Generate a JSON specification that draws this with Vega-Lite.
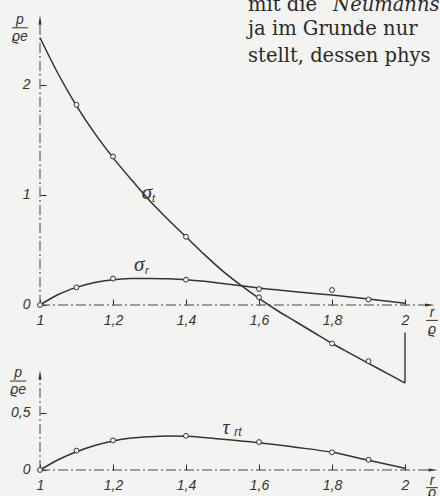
{
  "$schema": "https://vega.github.io/schema/vega-lite/v6.json",
  "background": "#f3f3f1",
  "padding": 0,
  "autosize": {"type": "none"},
  "width": 440,
  "height": 496,
  "config": {
    "view": {"stroke": null},
    "axis": {"grid": false, "domain": false, "tickColor": "#333", "tickWidth": 1.1, "labelFont": "Liberation Sans", "labelFontStyle": "italic", "labelFontSize": 14, "labelColor": "#333", "title": null}
  },
  "datasets": {
    "curves": [
      {"s": "sigma_t", "r": 1.0, "v": 2.43}, {"s": "sigma_t", "r": 1.05, "v": 2.1}, {"s": "sigma_t", "r": 1.1, "v": 1.81}, {"s": "sigma_t", "r": 1.15, "v": 1.56}, {"s": "sigma_t", "r": 1.2, "v": 1.34}, {"s": "sigma_t", "r": 1.25, "v": 1.14}, {"s": "sigma_t", "r": 1.3, "v": 0.95}, {"s": "sigma_t", "r": 1.35, "v": 0.78}, {"s": "sigma_t", "r": 1.4, "v": 0.62}, {"s": "sigma_t", "r": 1.45, "v": 0.46}, {"s": "sigma_t", "r": 1.5, "v": 0.31}, {"s": "sigma_t", "r": 1.55, "v": 0.18}, {"s": "sigma_t", "r": 1.6, "v": 0.06}, {"s": "sigma_t", "r": 1.65, "v": -0.05}, {"s": "sigma_t", "r": 1.7, "v": -0.15}, {"s": "sigma_t", "r": 1.75, "v": -0.25}, {"s": "sigma_t", "r": 1.8, "v": -0.35}, {"s": "sigma_t", "r": 1.85, "v": -0.44}, {"s": "sigma_t", "r": 1.9, "v": -0.53}, {"s": "sigma_t", "r": 1.95, "v": -0.62}, {"s": "sigma_t", "r": 2.0, "v": -0.71},
      {"s": "sigma_r", "r": 1.0, "v": 0.0}, {"s": "sigma_r", "r": 1.025, "v": 0.05}, {"s": "sigma_r", "r": 1.05, "v": 0.095}, {"s": "sigma_r", "r": 1.1, "v": 0.16}, {"s": "sigma_r", "r": 1.15, "v": 0.205}, {"s": "sigma_r", "r": 1.2, "v": 0.23}, {"s": "sigma_r", "r": 1.25, "v": 0.24}, {"s": "sigma_r", "r": 1.3, "v": 0.242}, {"s": "sigma_r", "r": 1.35, "v": 0.238}, {"s": "sigma_r", "r": 1.4, "v": 0.23}, {"s": "sigma_r", "r": 1.45, "v": 0.215}, {"s": "sigma_r", "r": 1.5, "v": 0.195}, {"s": "sigma_r", "r": 1.55, "v": 0.175}, {"s": "sigma_r", "r": 1.6, "v": 0.155}, {"s": "sigma_r", "r": 1.7, "v": 0.12}, {"s": "sigma_r", "r": 1.8, "v": 0.09}, {"s": "sigma_r", "r": 1.9, "v": 0.055}, {"s": "sigma_r", "r": 2.0, "v": 0.015},
      {"s": "tau", "r": 1.0, "v": 0.0}, {"s": "tau", "r": 1.05, "v": 0.09}, {"s": "tau", "r": 1.1, "v": 0.16}, {"s": "tau", "r": 1.15, "v": 0.215}, {"s": "tau", "r": 1.2, "v": 0.255}, {"s": "tau", "r": 1.25, "v": 0.28}, {"s": "tau", "r": 1.3, "v": 0.292}, {"s": "tau", "r": 1.35, "v": 0.298}, {"s": "tau", "r": 1.4, "v": 0.296}, {"s": "tau", "r": 1.45, "v": 0.285}, {"s": "tau", "r": 1.5, "v": 0.27}, {"s": "tau", "r": 1.55, "v": 0.255}, {"s": "tau", "r": 1.6, "v": 0.24}, {"s": "tau", "r": 1.7, "v": 0.2}, {"s": "tau", "r": 1.8, "v": 0.155}, {"s": "tau", "r": 1.9, "v": 0.085}, {"s": "tau", "r": 2.0, "v": 0.015}
    ],
    "points": [
      {"s": "sigma_t", "r": 1.1, "v": 1.82}, {"s": "sigma_t", "r": 1.2, "v": 1.35}, {"s": "sigma_t", "r": 1.4, "v": 0.62}, {"s": "sigma_t", "r": 1.6, "v": 0.07}, {"s": "sigma_t", "r": 1.8, "v": -0.35}, {"s": "sigma_t", "r": 1.9, "v": -0.51},
      {"s": "sigma_r", "r": 1.0, "v": 0.0}, {"s": "sigma_r", "r": 1.1, "v": 0.16}, {"s": "sigma_r", "r": 1.2, "v": 0.24}, {"s": "sigma_r", "r": 1.4, "v": 0.23}, {"s": "sigma_r", "r": 1.6, "v": 0.145}, {"s": "sigma_r", "r": 1.8, "v": 0.136}, {"s": "sigma_r", "r": 1.9, "v": 0.05},
      {"s": "tau", "r": 1.0, "v": 0.0}, {"s": "tau", "r": 1.1, "v": 0.17}, {"s": "tau", "r": 1.2, "v": 0.26}, {"s": "tau", "r": 1.4, "v": 0.3}, {"s": "tau", "r": 1.6, "v": 0.245}, {"s": "tau", "r": 1.8, "v": 0.155}, {"s": "tau", "r": 1.9, "v": 0.09}
    ]
  },
  "resolve": {"scale": {"y": "independent"}, "axis": {"x": "independent", "y": "independent"}},
  "layer": [
    {
      "layer": [
        {
          "data": {"values": [{"r0": 1, "r1": 2.066, "v": 0}]},
          "mark": {"type": "rule", "color": "#444", "strokeWidth": 1, "strokeDash": [10, 3, 2, 3]},
          "encoding": {
            "x": {"field": "r0", "type": "quantitative", "scale": {"domain": [0.8904, 2.0959], "nice": false, "zero": false},
                  "axis": {"orient": "bottom", "offset": -191, "values": [1, 1.2, 1.4, 1.6, 1.8, 2], "tickSize": -6, "labelPadding": 14, "labelExpr": "replace(format(datum.value, '~g'), '.', ',')"}},
            "x2": {"field": "r1"},
            "y": {"field": "v", "type": "quantitative", "scale": {"domain": [-1.7364, 2.7727], "nice": false, "zero": false},
                  "axis": {"orient": "left", "offset": -40, "values": [0, 1, 2], "tickSize": -6, "labelPadding": 16, "labelExpr": "format(datum.value, '~g')"}}
          }
        },
        {
          "data": {"values": [{"r": 1, "v0": 0, "v1": 2.6}]},
          "mark": {"type": "rule", "color": "#444", "strokeWidth": 1, "strokeDash": [10, 3, 2, 3]},
          "encoding": {"x": {"field": "r", "type": "quantitative"}, "y": {"field": "v0", "type": "quantitative"}, "y2": {"field": "v1"}}
        },
        {
          "data": {"values": [{"r": 2.068, "v": 0, "dir": "right"}, {"r": 1, "v": 2.59, "dir": "up"}]},
          "mark": {"type": "point", "filled": true, "color": "#333", "size": 90, "opacity": 1},
          "encoding": {
            "x": {"field": "r", "type": "quantitative"}, "y": {"field": "v", "type": "quantitative"},
            "shape": {"field": "dir", "type": "nominal", "scale": {"domain": ["right", "up"], "range": ["M1,0L-1,0.32L-1,-0.32Z", "M0,-1L0.32,1L-0.32,1Z"]}, "legend": null}
          }
        },
        {
          "data": {"name": "curves"},
          "transform": [{"filter": "datum.s != 'tau'"}],
          "mark": {"type": "line", "color": "#333", "strokeWidth": 1.5, "interpolate": "monotone"},
          "encoding": {"x": {"field": "r", "type": "quantitative"}, "y": {"field": "v", "type": "quantitative"}, "detail": {"field": "s"}}
        },
        {
          "data": {"values": [{"r": 2, "v0": -0.25, "v1": -0.71}]},
          "mark": {"type": "rule", "color": "#333", "strokeWidth": 1.4},
          "encoding": {"x": {"field": "r", "type": "quantitative"}, "y": {"field": "v0", "type": "quantitative"}, "y2": {"field": "v1"}}
        },
        {
          "data": {"name": "points"},
          "transform": [{"filter": "datum.s != 'tau'"}],
          "mark": {"type": "point", "shape": "circle", "filled": true, "fill": "#f3f3f1", "stroke": "#333", "strokeWidth": 1, "size": 24, "opacity": 1},
          "encoding": {"x": {"field": "r", "type": "quantitative"}, "y": {"field": "v", "type": "quantitative"}}
        },
        {
          "data": {"values": [{"r": 1.293, "v": 1.02, "t": "σ"}, {"r": 1.272, "v": 0.36, "t": "σ"}]},
          "mark": {"type": "text", "font": "Liberation Serif", "fontStyle": "italic", "fontSize": 21, "color": "#333", "align": "center", "baseline": "middle"},
          "encoding": {"x": {"field": "r", "type": "quantitative"}, "y": {"field": "v", "type": "quantitative"}, "text": {"field": "t"}}
        },
        {
          "data": {"values": [{"r": 1.311, "v": 0.96, "t": "t"}, {"r": 1.293, "v": 0.31, "t": "r"}]},
          "mark": {"type": "text", "font": "Liberation Sans", "fontStyle": "italic", "fontSize": 11, "color": "#333", "align": "center", "baseline": "middle"},
          "encoding": {"x": {"field": "r", "type": "quantitative"}, "y": {"field": "v", "type": "quantitative"}, "text": {"field": "t"}}
        },
        {
          "data": {"values": [{"r": 0.945, "v": 2.59, "t": "p"}, {"r": 0.945, "v": 2.44, "t": "ϱe"}, {"r": 2.074, "v": -0.07, "t": "r"}, {"r": 2.074, "v": -0.23, "t": "ϱ"}]},
          "mark": {"type": "text", "font": "Liberation Sans", "fontStyle": "italic", "fontSize": 14, "color": "#333", "align": "center", "baseline": "middle"},
          "encoding": {"x": {"field": "r", "type": "quantitative"}, "y": {"field": "v", "type": "quantitative"}, "text": {"field": "t"}}
        },
        {
          "data": {"values": [{"r0": 0.923, "r1": 0.967, "v": 2.52}, {"r0": 2.058, "r1": 2.09, "v": -0.14}]},
          "mark": {"type": "rule", "color": "#333", "strokeWidth": 1},
          "encoding": {"x": {"field": "r0", "type": "quantitative"}, "x2": {"field": "r1"}, "y": {"field": "v", "type": "quantitative"}}
        },
        {
          "data": {"values": [{"r": 1.57, "v": 2.675, "t": "mit die"}, {"r": 1.57, "v": 2.455, "t": "ja im Grunde nur"}, {"r": 1.57, "v": 2.21, "t": "stellt, dessen phys"}]},
          "mark": {"type": "text", "font": "DejaVu Serif", "fontSize": 19.5, "color": "#2a2a2a", "align": "left", "baseline": "alphabetic"},
          "encoding": {"x": {"field": "r", "type": "quantitative"}, "y": {"field": "v", "type": "quantitative"}, "text": {"field": "t"}}
        },
        {
          "data": {"values": [{"r": 1.803, "v": 2.675, "t": "Neumanns"}]},
          "mark": {"type": "text", "font": "DejaVu Serif", "fontStyle": "italic", "fontSize": 19.5, "color": "#2a2a2a", "align": "left", "baseline": "alphabetic"},
          "encoding": {"x": {"field": "r", "type": "quantitative"}, "y": {"field": "v", "type": "quantitative"}, "text": {"field": "t"}}
        }
      ]
    },
    {
      "layer": [
        {
          "data": {"values": [{"r0": 1, "r1": 2.074, "v": 0}]},
          "mark": {"type": "rule", "color": "#444", "strokeWidth": 1, "strokeDash": [10, 3, 2, 3]},
          "encoding": {
            "x": {"field": "r0", "type": "quantitative",
                  "axis": {"orient": "bottom", "offset": -26, "values": [1, 1.2, 1.4, 1.6, 1.8, 2], "tickSize": -6, "labelPadding": 14, "labelExpr": "replace(format(datum.value, '~g'), '.', ',')"}},
            "x2": {"field": "r1"},
            "y": {"field": "v", "type": "quantitative", "scale": {"domain": [-0.2281, 4.1228], "nice": false, "zero": false},
                  "axis": {"orient": "left", "offset": -40, "values": [0, 0.5], "tickSize": -6, "labelPadding": 16, "labelExpr": "replace(format(datum.value, '~g'), '.', ',')"}}
          }
        },
        {
          "data": {"values": [{"r": 1, "v0": 0, "v1": 0.84}]},
          "mark": {"type": "rule", "color": "#444", "strokeWidth": 1, "strokeDash": [10, 3, 2, 3]},
          "encoding": {"x": {"field": "r", "type": "quantitative"}, "y": {"field": "v0", "type": "quantitative"}, "y2": {"field": "v1"}}
        },
        {
          "data": {"values": [{"r": 2.077, "v": 0, "dir": "right"}, {"r": 1, "v": 0.833, "dir": "up"}]},
          "mark": {"type": "point", "filled": true, "color": "#333", "size": 90, "opacity": 1},
          "encoding": {
            "x": {"field": "r", "type": "quantitative"}, "y": {"field": "v", "type": "quantitative"},
            "shape": {"field": "dir", "type": "nominal", "scale": {"domain": ["right", "up"], "range": ["M1,0L-1,0.32L-1,-0.32Z", "M0,-1L0.32,1L-0.32,1Z"]}, "legend": null}
          }
        },
        {
          "data": {"name": "curves"},
          "transform": [{"filter": "datum.s == 'tau'"}],
          "mark": {"type": "line", "color": "#333", "strokeWidth": 1.5, "interpolate": "monotone"},
          "encoding": {"x": {"field": "r", "type": "quantitative"}, "y": {"field": "v", "type": "quantitative"}}
        },
        {
          "data": {"name": "points"},
          "transform": [{"filter": "datum.s == 'tau'"}],
          "mark": {"type": "point", "shape": "circle", "filled": true, "fill": "#f3f3f1", "stroke": "#333", "strokeWidth": 1, "size": 24, "opacity": 1},
          "encoding": {"x": {"field": "r", "type": "quantitative"}, "y": {"field": "v", "type": "quantitative"}}
        },
        {
          "data": {"values": [{"r": 1.51, "v": 0.37, "t": "τ"}]},
          "mark": {"type": "text", "font": "Liberation Serif", "fontStyle": "italic", "fontSize": 20, "color": "#333", "align": "center", "baseline": "middle"},
          "encoding": {"x": {"field": "r", "type": "quantitative"}, "y": {"field": "v", "type": "quantitative"}, "text": {"field": "t"}}
        },
        {
          "data": {"values": [{"r": 1.542, "v": 0.33, "t": "rt"}]},
          "mark": {"type": "text", "font": "Liberation Sans", "fontStyle": "italic", "fontSize": 12, "color": "#333", "align": "center", "baseline": "middle"},
          "encoding": {"x": {"field": "r", "type": "quantitative"}, "y": {"field": "v", "type": "quantitative"}, "text": {"field": "t"}}
        },
        {
          "data": {"values": [{"r": 0.94, "v": 0.85, "t": "p"}, {"r": 0.94, "v": 0.7, "t": "ϱe"}, {"r": 2.074, "v": -0.1, "t": "r"}, {"r": 2.074, "v": -0.2, "t": "ϱ"}]},
          "mark": {"type": "text", "font": "Liberation Sans", "fontStyle": "italic", "fontSize": 14, "color": "#333", "align": "center", "baseline": "middle"},
          "encoding": {"x": {"field": "r", "type": "quantitative"}, "y": {"field": "v", "type": "quantitative"}, "text": {"field": "t"}}
        },
        {
          "data": {"values": [{"r0": 0.918, "r1": 0.962, "v": 0.78}, {"r0": 2.058, "r1": 2.09, "v": -0.155}]},
          "mark": {"type": "rule", "color": "#333", "strokeWidth": 1},
          "encoding": {"x": {"field": "r0", "type": "quantitative"}, "x2": {"field": "r1"}, "y": {"field": "v", "type": "quantitative"}}
        }
      ]
    }
  ]
}
